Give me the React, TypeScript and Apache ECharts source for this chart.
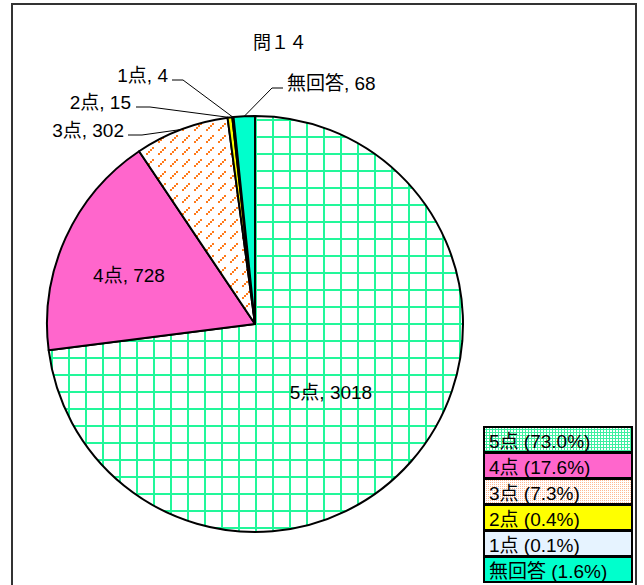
import React, { useEffect, useRef } from 'react';
import * as echarts from 'echarts';

const chartTitle = '問１４';
const categories = ['5点', '4点', '3点', '2点', '1点', '無回答'];
const values = [3018, 728, 302, 15, 4, 68];

const FONT = '"Liberation Sans", "Noto Sans CJK JP", sans-serif';
const TITLE_FONT = '"Noto Sans CJK JP", sans-serif';

function makeCanvas(w: number, h: number, draw: (c: CanvasRenderingContext2D) => void) {
  const cv = document.createElement('canvas');
  cv.width = w;
  cv.height = h;
  const ctx = cv.getContext('2d')!;
  draw(ctx);
  return cv;
}

function gridPattern(size: number, lw: number, color: string) {
  return makeCanvas(size, size, (c) => {
    c.fillStyle = '#ffffff';
    c.fillRect(0, 0, size, size);
    c.fillStyle = color;
    c.fillRect(0, 0, size, lw);
    c.fillRect(0, 0, lw, size);
  });
}

function dashPattern() {
  return makeCanvas(12, 12, (c) => {
    c.fillStyle = '#ffffff';
    c.fillRect(0, 0, 12, 12);
    c.fillStyle = '#ff7a1a';
    const pts = [[2, 9], [4, 7], [6, 5], [8, 3]];
    pts.forEach(([x, y]) => c.fillRect(x, y, 2, 2));
  });
}

function dotPattern(color: string) {
  return makeCanvas(4, 4, (c) => {
    c.fillStyle = '#ffffff';
    c.fillRect(0, 0, 4, 4);
    c.fillStyle = color;
    c.fillRect(0, 0, 1, 1);
    c.fillRect(2, 2, 1, 1);
    c.fillRect(2, 0, 1, 1);
    c.fillRect(0, 2, 1, 1);
  });
}

export default function App() {
  const ref = useRef<HTMLDivElement>(null);
  useEffect(() => {
    if (!ref.current) return;
    const chart = echarts.init(ref.current, null, { renderer: 'svg' });

    const pieFills: any[] = [
      { image: gridPattern(17, 2, '#22f79a'), repeat: 'repeat' },
      '#ff66cc',
      { image: dashPattern(), repeat: 'repeat' },
      '#ffff00',
      '#e6f3ff',
      '#00ffcc',
    ];
    const legendFills: any[] = [
      { image: gridPattern(3, 1, '#3ef0a0'), repeat: 'repeat' },
      '#ff66cc',
      { image: dotPattern('#ffb894'), repeat: 'repeat' },
      '#ffff00',
      '#e6f3ff',
      '#00ffcc',
    ];

    const total = values.reduce((a, b) => a + b, 0);

    // label layout (positions only)
    const spots: any[] = [
      { x: 331, y: 392, align: 'center' },
      { x: 129, y: 275, align: 'center' },
      { x: 124, y: 130, align: 'right', lineY: 135, endX: 128, elbowX: 142 },
      { x: 131, y: 102, align: 'right', lineY: 107, endX: 136, elbowX: 150 },
      { x: 168, y: 75, align: 'right', lineY: 80, endX: 172, elbowX: 183 },
      { x: 287, y: 83, align: 'left', lineY: 88, endX: 283, elbowX: 272 },
    ];

    const legendX = 484;
    const legendY = 427;
    const legendH = 26;
    const legendW = 148;
    const legendGraphics: any[] = [];
    categories.forEach((name, i) => {
      const pct = ((values[i] / total) * 100).toFixed(1);
      legendGraphics.push({
        type: 'rect',
        shape: { x: legendX, y: legendY + i * legendH, width: legendW, height: legendH - 1 },
        style: { fill: legendFills[i], stroke: '#000', lineWidth: 2 },
        z: 10,
      });
      legendGraphics.push({
        type: 'text',
        x: legendX + 5,
        y: legendY + i * legendH + legendH / 2 + 1,
        style: {
          text: `${name} (${pct}%)`,
          fill: '#000',
          font: `19px ${FONT}`,
          verticalAlign: 'middle',
          align: 'left',
        },
        z: 11,
      });
    });

    chart.setOption({
      animation: false,
      title: {
        text: chartTitle,
        left: 248,
        top: 27,
        textStyle: { fontSize: 18, fontWeight: 'normal', color: '#000', fontFamily: TITLE_FONT },
      },
      graphic: [
        {
          type: 'rect',
          shape: { x: 12, y: 4, width: 624, height: 620 },
          style: { fill: 'none', stroke: '#333', lineWidth: 2 },
          z: 0,
        },
        ...legendGraphics,
      ],
      series: [
        {
          type: 'pie',
          center: [255, 324],
          radius: 208,
          startAngle: 90,
          clockwise: true,
          avoidLabelOverlap: false,
          emphasis: { disabled: true },
          itemStyle: { borderColor: '#000', borderWidth: 2 },
          label: {
            show: true,
            formatter: '{b}, {c}',
            color: '#000',
            fontSize: 19,
            fontFamily: FONT,
          },
          labelLine: {
            show: true,
            length: 10,
            length2: 10,
            smooth: false,
            lineStyle: { color: '#000', width: 1 },
          },
          labelLayout: (p: any) => {
            const s = spots[p.dataIndex];
            if (!s) return {};
            const out: any = { x: s.x, y: s.y, align: s.align, verticalAlign: 'middle' };
            if (s.lineY !== undefined && p.labelLinePoints && p.labelLinePoints[0]) {
              const p0 = p.labelLinePoints[0];
              out.labelLinePoints = [p0, [s.elbowX, s.lineY], [s.endX, s.lineY]];
            }
            return out;
          },
          data: categories.map((name, i) => ({
            name,
            value: values[i],
            itemStyle: { color: pieFills[i] },
            label: { position: i < 2 ? 'inside' : 'outside' },
            labelLine: { show: i >= 2 },
          })),
        },
      ],
    });
    return () => chart.dispose();
  }, []);
  return (
    <div
      ref={ref}
      style={{ position: 'fixed', left: 0, top: 0, width: 644, height: 585, background: '#fff' }}
    />
  );
}
